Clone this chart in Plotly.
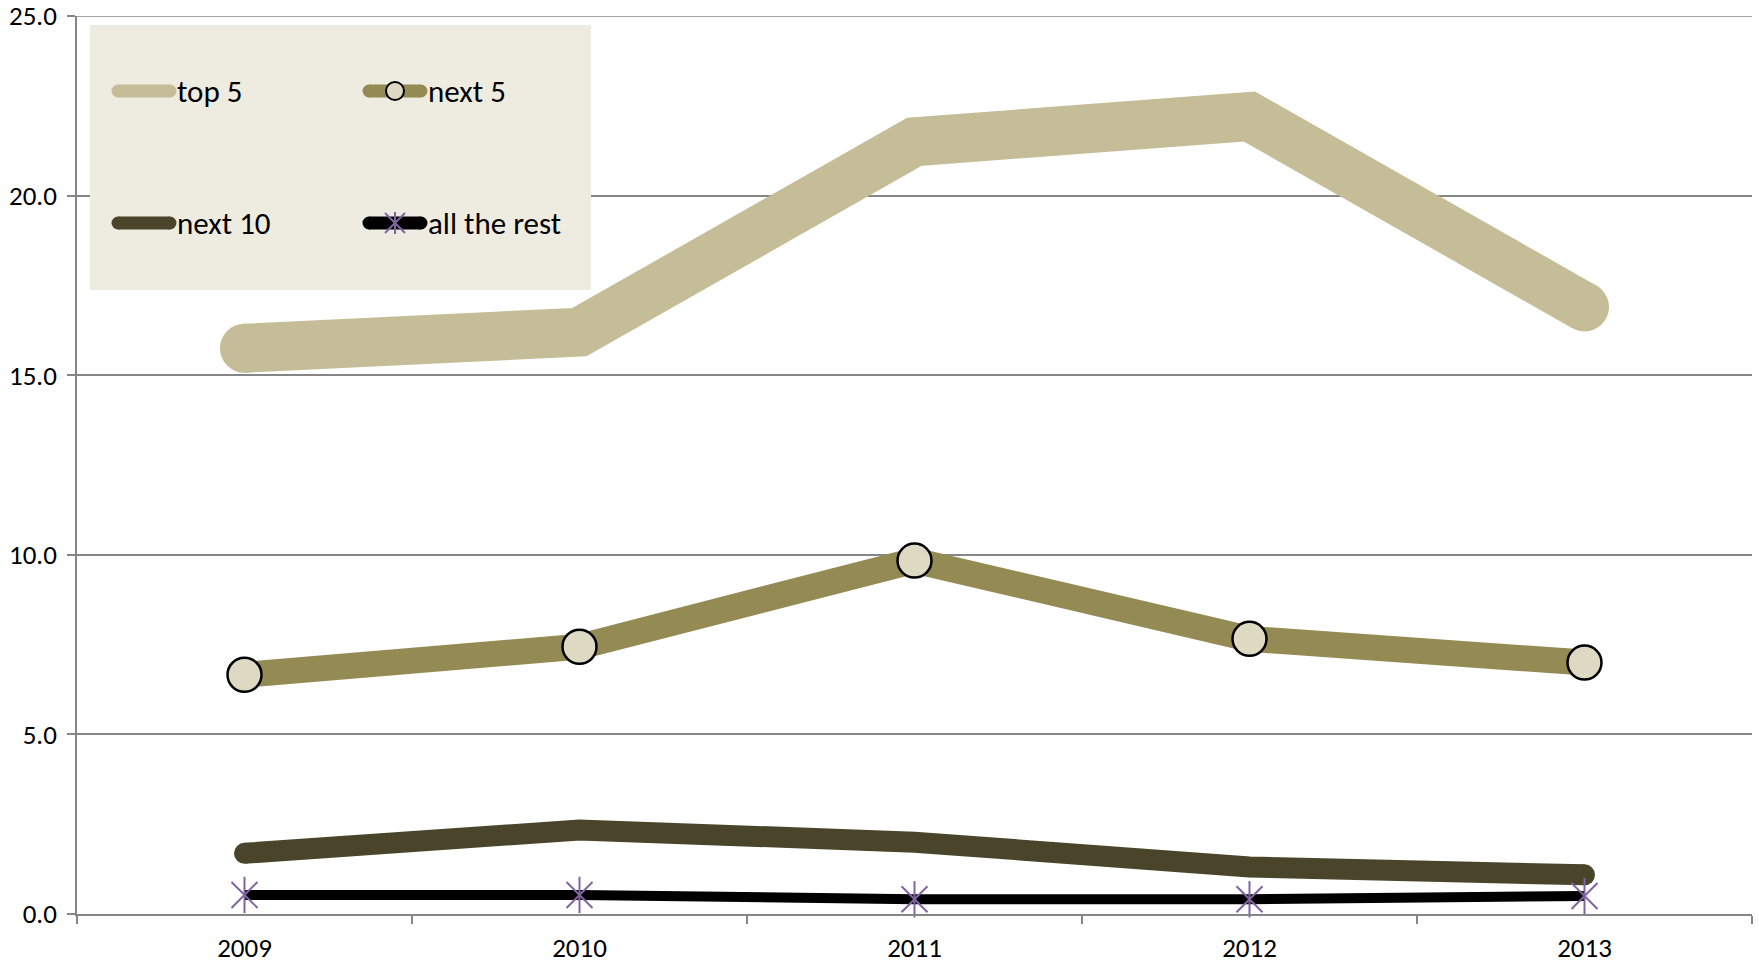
import plotly.graph_objects as go

# Share values by year
years = ["2009", "2010", "2011", "2012", "2013"]
top5 = [15.75, 16.2, 21.5, 22.2, 16.9]
next5 = [6.66, 7.44, 9.84, 7.66, 7.0]
next10 = [1.69, 2.34, 2.0, 1.31, 1.09]
rest = [0.53, 0.53, 0.41, 0.41, 0.5]

series_names = ["top 5", "next 5", "next 10", "all the rest"]

C_TOP5 = "#C4BD97"
C_NEXT5 = "#948A54"
C_NEXT10 = "#4A452A"
C_REST = "#000000"
C_MARK = "#DDD9C3"
C_STAR = "#8064A2"
GRID = "#868686"
FONT = "Carlito, Calibri, Lato, sans-serif"

W, H = 1759, 963
ML, MR, MT, MB = 77, 7, 16, 49
PW, PH = W - ML - MR, H - MT - MB

fig = go.Figure()


def thick_line(values, color, width):
    fig.add_trace(go.Scatter(x=years, y=values, mode="lines",
                             line=dict(color=color, width=width),
                             showlegend=False, hoverinfo="skip"))
    # round caps at both ends of the line
    fig.add_trace(go.Scatter(x=[years[0], years[-1]], y=[values[0], values[-1]],
                             mode="markers",
                             marker=dict(color=color, size=width, line=dict(width=0)),
                             showlegend=False, hoverinfo="skip", cliponaxis=False))


thick_line(top5, C_TOP5, 49)

fig.add_trace(go.Scatter(x=years, y=next5, mode="lines+markers", name=series_names[1],
                         line=dict(color=C_NEXT5, width=26),
                         marker=dict(symbol="circle", size=34, color=C_MARK,
                                     line=dict(color="black", width=2.5)),
                         showlegend=False, cliponaxis=False))

thick_line(next10, C_NEXT10, 21)

fig.add_trace(go.Scatter(x=years, y=rest, mode="lines", name=series_names[3],
                         line=dict(color=C_REST, width=10),
                         showlegend=False, cliponaxis=False))
for sym in ("x-thin", "line-ns"):
    fig.add_trace(go.Scatter(x=years, y=rest, mode="markers",
                             marker=dict(symbol=sym, size=26,
                                         line=dict(color=C_STAR, width=2)),
                             showlegend=False, hoverinfo="skip", cliponaxis=False))


# ---- legend box drawn with shapes/annotations (pixel -> paper coords)
def px(x):
    return (x - ML) / PW


def py(y):
    return (MT + PH - y) / PH


# top border gridline at 25.0
shapes = [dict(type="line", xref="paper", yref="y", layer="below",
               x0=0, x1=1, y0=25, y1=25, line=dict(color=GRID, width=1.5))]

shapes.append(dict(type="rect", xref="paper", yref="paper", layer="above",
                   x0=px(90), x1=px(591), y0=py(25), y1=py(290),
                   fillcolor="#EEECE1", line=dict(width=0)))

LEG_W = 13
rows = [91, 223]
cols = [(118, 170), (369, 421)]
legend_colors = [C_TOP5, C_NEXT5, C_NEXT10, C_REST]
for i, name in enumerate(series_names):
    yy = rows[i // 2]
    x0, x1 = cols[i % 2]
    c = legend_colors[i]
    shapes.append(dict(type="line", xref="paper", yref="paper", layer="above",
                       x0=px(x0), x1=px(x1), y0=py(yy), y1=py(yy),
                       line=dict(color=c, width=LEG_W)))
    for xe in (x0, x1):
        shapes.append(dict(type="circle", xref="paper", yref="paper", layer="above",
                           xsizemode="pixel", ysizemode="pixel",
                           xanchor=px(xe), yanchor=py(yy),
                           x0=-LEG_W / 2, x1=LEG_W / 2, y0=-LEG_W / 2, y1=LEG_W / 2,
                           fillcolor=c, line=dict(width=0)))
    fig.add_annotation(xref="paper", yref="paper", x=px(x1 + 5), y=py(yy),
                       xanchor="left", yanchor="middle", showarrow=False,
                       text=name, font=dict(family=FONT, size=31, color="black"))

# legend marker symbols
xm = (cols[1][0] + cols[1][1]) / 2
shapes.append(dict(type="circle", xref="paper", yref="paper", layer="above",
                   xsizemode="pixel", ysizemode="pixel",
                   xanchor=px(xm), yanchor=py(rows[0]),
                   x0=-9, x1=9, y0=-9, y1=9,
                   fillcolor=C_MARK, line=dict(color="black", width=2)))
for (a, b, c, d) in [(-10, -10, 10, 10), (-10, 10, 10, -10), (0, -11, 0, 11)]:
    shapes.append(dict(type="line", xref="paper", yref="paper", layer="above",
                       xsizemode="pixel", ysizemode="pixel",
                       xanchor=px(xm), yanchor=py(rows[1]),
                       x0=a, y0=b, x1=c, y1=d,
                       line=dict(color=C_STAR, width=2)))

fig.update_layout(
    width=W, height=H,
    margin=dict(l=ML, r=MR, t=MT, b=MB, pad=0, autoexpand=False),
    paper_bgcolor="white", plot_bgcolor="white",
    font=dict(family=FONT, size=27, color="black"),
    showlegend=False,
    shapes=shapes,
    xaxis=dict(type="category", range=[-0.5, 4.5], showgrid=False, automargin=False,
               showline=True, linecolor=GRID, linewidth=1.5,
               ticks="outside", tickson="boundaries", ticklen=8,
               tickcolor=GRID, tickwidth=1.5, ticklabelstandoff=9,
               ticklabeloverflow="allow",
               tickfont=dict(family=FONT, size=27, color="black")),
    yaxis=dict(range=[0, 25], dtick=5, tickformat=".1f", automargin=False,
               showgrid=True, gridcolor=GRID, gridwidth=1.5, zeroline=False,
               showline=True, linecolor=GRID, linewidth=1.5,
               ticks="outside", ticklen=8, tickcolor=GRID, tickwidth=1.5,
               ticklabelstandoff=5, ticklabeloverflow="allow",
               tickfont=dict(family=FONT, size=27, color="black")),
)

fig.write_html("out.html")
